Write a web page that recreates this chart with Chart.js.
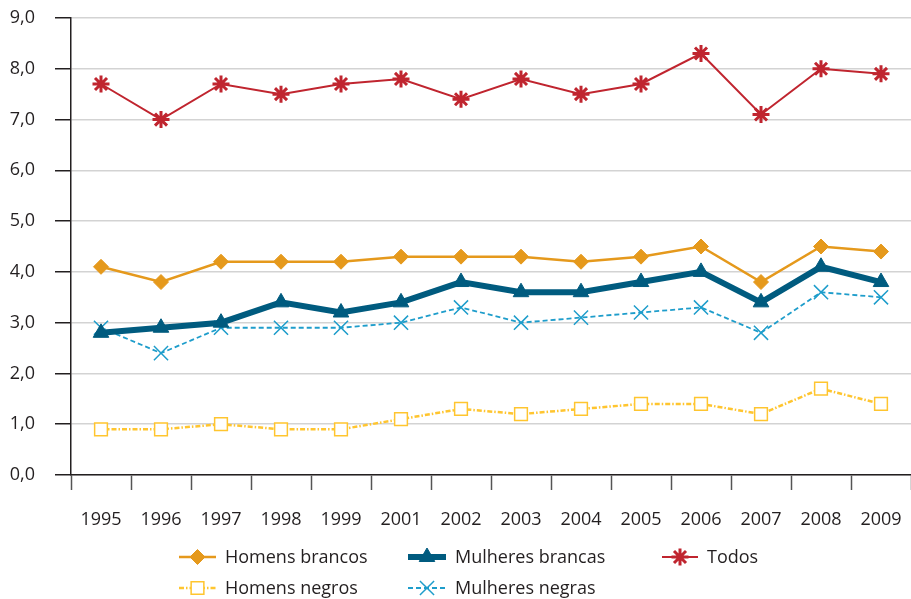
<!DOCTYPE html>
<html>
<head>
<meta charset="utf-8">
<script src="https://cdn.jsdelivr.net/npm/chart.js@4.4.0/dist/chart.umd.min.js"></script>
<style>
  html, body { margin: 0; padding: 0; background: #fff; }
  #wrap { width: 911px; height: 599px; position: relative; }
</style>
</head>
<body>
<div id="wrap"><canvas id="chart"></canvas></div>
<script>
var anos = ["1995", "1996", "1997", "1998", "1999", "2001", "2002", "2003", "2004", "2005", "2006", "2007", "2008", "2009"];
var homensBrancos = [4.1, 3.8, 4.2, 4.2, 4.2, 4.3, 4.3, 4.3, 4.2, 4.3, 4.5, 3.8, 4.5, 4.4];
var mulheresBrancas = [2.8, 2.9, 3.0, 3.4, 3.2, 3.4, 3.8, 3.6, 3.6, 3.8, 4.0, 3.4, 4.1, 3.8];
var todos = [7.7, 7.0, 7.7, 7.5, 7.7, 7.8, 7.4, 7.8, 7.5, 7.7, 8.3, 7.1, 8.0, 7.9];
var homensNegros = [0.9, 0.9, 1.0, 0.9, 0.9, 1.1, 1.3, 1.2, 1.3, 1.4, 1.4, 1.2, 1.7, 1.4];
var mulheresNegras = [2.9, 2.4, 2.9, 2.9, 2.9, 3.0, 3.3, 3.0, 3.1, 3.2, 3.3, 2.8, 3.6, 3.5];

var fonte = "'Open Sans', 'Noto Sans', sans-serif";
var corTexto = "#231F20";

// legenda desenhada a mao (duas linhas, como no original)
var posLegenda = [
    { x: 179, y: 557 }, { x: 408, y: 557 }, { x: 662, y: 557 },
    { x: 179, y: 588 }, { x: 408, y: 588 }
];

var legendaPlugin = {
    id: "legendaManual",
    afterDraw: function(chart) {
        var ctx = chart.ctx;
        chart.data.datasets.forEach(function(ds, i) {
            var p = posLegenda[i];
            var w = ds.legendLine;
            ctx.save();
            ctx.strokeStyle = ds.borderColor;
            ctx.lineWidth = ds.borderWidth;
            ctx.setLineDash(ds.borderDash || []);
            ctx.beginPath();
            ctx.moveTo(p.x, p.y);
            ctx.lineTo(p.x + w, p.y);
            ctx.stroke();
            ctx.setLineDash([]);
            ctx.fillStyle = ds.pointBackgroundColor;
            ctx.strokeStyle = ds.pointBorderColor;
            ctx.lineWidth = ds.pointBorderWidth;
            Chart.helpers.drawPoint(ctx, {
                pointStyle: ds.pointStyle,
                radius: ds.pointRadius,
                borderWidth: ds.pointBorderWidth,
                rotation: 0
            }, p.x + w / 2, p.y);
            ctx.fillStyle = corTexto;
            ctx.font = "18px " + fonte;
            ctx.textBaseline = "middle";
            ctx.fillText(ds.label, p.x + w + 9, p.y + 1);
            ctx.restore();
        });
    }
};

new Chart("chart", {
    type: "line",
    data: {
        labels: anos,
        datasets: [{
            label: "Homens brancos",
            data: homensBrancos,
            borderColor: "#E5991C",
            borderWidth: 2.5,
            pointStyle: "rectRot",
            pointRadius: 7.5,
            pointBackgroundColor: "#E5991C",
            pointBorderColor: "#E5991C",
            pointBorderWidth: 1,
            legendLine: 37
        }, {
            label: "Mulheres brancas",
            data: mulheresBrancas,
            borderColor: "#005B7F",
            borderWidth: 6,
            pointStyle: "triangle",
            pointRadius: 9,
            pointBackgroundColor: "#005B7F",
            pointBorderColor: "#005B7F",
            pointBorderWidth: 1,
            legendLine: 38
        }, {
            label: "Todos",
            data: todos,
            borderColor: "#C0252F",
            borderWidth: 2,
            pointStyle: "star",
            pointRadius: 8.5,
            pointBackgroundColor: "#C0252F",
            pointBorderColor: "#C0252F",
            pointBorderWidth: 3,
            legendLine: 36
        }, {
            label: "Homens negros",
            data: homensNegros,
            borderColor: "#FFC52F",
            borderWidth: 2.5,
            borderDash: [5, 2, 1.5, 2],
            pointStyle: "rect",
            pointRadius: 9,
            pointBackgroundColor: "#FFFFFF",
            pointBorderColor: "#FFC52F",
            pointBorderWidth: 1.5,
            legendLine: 37
        }, {
            label: "Mulheres negras",
            data: mulheresNegras,
            borderColor: "#1E9DCB",
            borderWidth: 1.8,
            borderDash: [5, 3],
            pointStyle: "crossRot",
            pointRadius: 10,
            pointBackgroundColor: "#1E9DCB",
            pointBorderColor: "#1E9DCB",
            pointBorderWidth: 1.5,
            legendLine: 38
        }]
    },
    options: {
        responsive: true,
        maintainAspectRatio: false,
        animation: false,
        elements: { line: { tension: 0 } },
        layout: { autoPadding: false, padding: { top: 18, right: 0, left: 0, bottom: 0 } },
        plugins: {
            legend: { display: false },
            tooltip: { enabled: false }
        },
        scales: {
            x: {
                offset: true,
                afterFit: function(scale) {
                    scale.height = 124;
                    scale.paddingLeft = 0;
                    scale.paddingRight = 0;
                },
                grid: {
                    offset: true,
                    drawOnChartArea: false,
                    tickLength: 15,
                    tickColor: "#555",
                    tickWidth: 1.5
                },
                border: { color: "#231F20", width: 1.5 },
                ticks: {
                    color: corTexto,
                    font: { family: fonte, size: 18 },
                    padding: 19,
                    maxRotation: 0,
                    autoSkip: false
                }
            },
            y: {
                min: 0,
                max: 9,
                afterFit: function(scale) {
                    scale.width = 71;
                    scale.paddingTop = 0;
                    scale.paddingBottom = 0;
                },
                grid: {
                    color: "#D3D3D3",
                    lineWidth: 1.5,
                    tickLength: 16,
                    tickColor: "#231F20",
                    tickWidth: 1.5
                },
                border: { color: "#231F20", width: 1.5 },
                ticks: {
                    stepSize: 1,
                    color: corTexto,
                    font: { family: fonte, size: 18 },
                    padding: 20,
                    callback: function(v) { return v.toFixed(1).replace(".", ","); }
                }
            }
        }
    },
    plugins: [legendaPlugin]
});
</script>
</body>
</html>
